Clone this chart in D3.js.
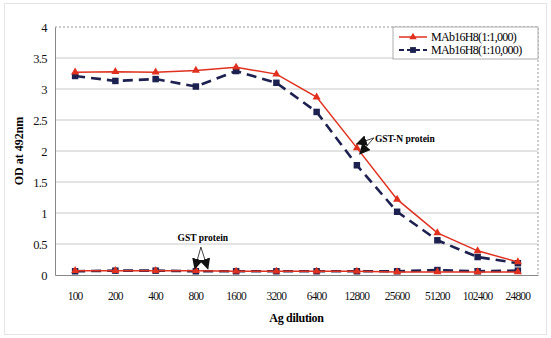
<!DOCTYPE html>
<html lang="en">
<head>
<meta charset="UTF-8">
<title>OD at 492nm</title>
<script src="https://cdn.jsdelivr.net/npm/d3@7"></script>
<style>
    body { margin: 0; background: #fff; }
    svg { display: block; font-family: "Liberation Serif", "DejaVu Serif", serif; }
</style>
</head>
<body>
<div id="graphic"></div>
<script>
    // tick labels / categories
    var dilutions = ['100', '200', '400', '800', '1600', '3200', '6400', '12800', '25600', '51200', '102400', '24800'];
    var yTicks = [0, 0.5, 1, 1.5, 2, 2.5, 3, 3.5, 4];

    // GST-N protein
    var mab1000 = [3.27, 3.28, 3.27, 3.30, 3.35, 3.24, 2.87, 2.05, 1.22, 0.68, 0.39, 0.21];
    var mab10000 = [3.21, 3.13, 3.16, 3.04, 3.29, 3.10, 2.63, 1.77, 1.02, 0.56, 0.29, 0.19];
    // GST protein
    var gst1000 = [0.07, 0.07, 0.07, 0.07, 0.06, 0.06, 0.06, 0.06, 0.05, 0.05, 0.05, 0.05];
    var gst10000 = [0.06, 0.07, 0.07, 0.06, 0.06, 0.06, 0.06, 0.06, 0.06, 0.08, 0.06, 0.07];

    var width = 551, height = 338;
    var margin = {left: 55, right: 13, top: 27, bottom: 63};
    var red = '#e0301e', navy = '#1c2150';

    var svg = d3.select('#graphic').append('svg')
        .attr('width', width)
        .attr('height', height);

    // faint scan frame
    svg.append('rect')
        .attr('x', 4.5).attr('y', 3.5)
        .attr('width', width - 9).attr('height', height - 7)
        .attr('fill', 'none').attr('stroke', '#e4e4e4');

    var x = d3.scaleBand()
        .domain(dilutions)
        .range([margin.left, width - margin.right])
        .padding(0);

    var y = d3.scaleLinear()
        .domain([0, 4])
        .range([height - margin.bottom, margin.top]);

    var cx = function(i) { return x(dilutions[i]) + x.bandwidth() / 2; };

    // grid lines
    svg.append('g')
        .selectAll('line')
        .data(yTicks.filter(d => d > 0 && d < 4))
        .join('line')
        .attr('x1', margin.left).attr('x2', width - margin.right)
        .attr('y1', d => y(d)).attr('y2', d => y(d))
        .attr('stroke', '#c8c8c8').attr('stroke-width', 1);

    // dotted top & right border
    svg.append('path')
        .attr('d', 'M' + margin.left + ',' + y(4) + 'H' + (width - margin.right) + 'V' + y(0))
        .attr('fill', 'none').attr('stroke', '#999')
        .attr('stroke-dasharray', '2,2');

    // y axis
    var yAxis = svg.append('g')
        .attr('transform', 'translate(' + margin.left + ',0)')
        .call(d3.axisLeft(y).tickValues(yTicks).tickSize(0).tickPadding(8).tickFormat(d3.format('')));
    yAxis.select('.domain').attr('stroke', '#888');
    yAxis.selectAll('text').attr('font-size', 12.5).attr('fill', '#111')
        .attr('letter-spacing', '-0.6px')
        .attr('font-family', '"Liberation Serif", serif');

    // x axis
    var xAxis = svg.append('g')
        .attr('transform', 'translate(0,' + y(0) + ')')
        .call(d3.axisBottom(x).tickSize(0).tickPadding(17));
    xAxis.select('.domain').attr('stroke', '#888');
    xAxis.selectAll('text').attr('font-size', 11.5).attr('fill', '#111')
        .attr('letter-spacing', '-0.8px')
        .attr('font-family', '"Liberation Serif", serif');

    // axis titles
    svg.append('text')
        .attr('transform', 'translate(23,' + y(2) + ') rotate(-90)')
        .attr('text-anchor', 'middle')
        .attr('font-size', 12).attr('font-weight', 'bold')
        .text('OD at 492nm');
    svg.append('text')
        .attr('x', x('3200') + x.bandwidth())
        .attr('y', 322)
        .attr('text-anchor', 'middle')
        .attr('font-size', 12).attr('font-weight', 'bold')
        .attr('letter-spacing', '-0.3px')
        .text('Ag dilution');

    var line = d3.line().x((d, i) => cx(i)).y(d => y(d));

    function drawSeries(values, color, dashed, marker) {
        var g = svg.append('g');
        g.append('path')
            .datum(values)
            .attr('d', line)
            .attr('fill', 'none')
            .attr('stroke', color)
            .attr('stroke-width', dashed ? 2.6 : 1.5)
            .attr('stroke-dasharray', dashed ? '10,6' : null);
        g.selectAll('path.mk')
            .data(values)
            .join('path')
            .attr('class', 'mk')
            .attr('d', d3.symbol().type(marker).size(marker === d3.symbolTriangle ? 28 : 42))
            .attr('transform', (d, i) => 'translate(' + cx(i) + ',' + y(d) + ')')
            .attr('fill', color);
    }

    drawSeries(gst10000, navy, true, d3.symbolSquare);
    drawSeries(gst1000, red, false, d3.symbolTriangle);
    drawSeries(mab10000, navy, true, d3.symbolSquare);
    drawSeries(mab1000, red, false, d3.symbolTriangle);

    // arrow marker
    svg.append('defs').append('marker')
        .attr('id', 'arr')
        .attr('viewBox', '0 0 10 10')
        .attr('refX', 9).attr('refY', 5)
        .attr('markerWidth', 11).attr('markerHeight', 11)
        .attr('markerUnits', 'userSpaceOnUse')
        .attr('orient', 'auto')
        .append('path')
        .attr('d', 'M0,0L10,5L0,10Z')
        .attr('fill', '#111');

    function arrow(x1, y1, x2, y2) {
        svg.append('line')
            .attr('x1', x1).attr('y1', y1).attr('x2', x2).attr('y2', y2)
            .attr('stroke', '#111').attr('stroke-width', 0.8)
            .attr('marker-end', 'url(#arr)');
    }

    // GST-N protein annotation
    var nx = cx(7), nTop = y(mab1000[7]);
    svg.append('text')
        .attr('x', nx + 18).attr('y', nTop - 6)
        .attr('font-size', 9.5).attr('font-weight', 'bold')
        .text('GST-N protein');
    arrow(nx + 17, nTop - 10, nx, nTop - 4);
    arrow(nx + 17, nTop - 10, nx + 3, nTop + 6);

    // GST protein annotation
    var gx = cx(3);
    svg.append('text')
        .attr('x', gx + 7).attr('y', y(0.55))
        .attr('text-anchor', 'middle')
        .attr('font-size', 9.5).attr('font-weight', 'bold')
        .text('GST protein');
    arrow(gx + 5, y(0.45), gx - 1, y(gst1000[3]) - 2);
    arrow(gx + 5, y(0.45), gx + 12, y(gst1000[3]) - 2);

    // legend
    var lg = svg.append('g').attr('transform', 'translate(393,27)');
    lg.append('rect')
        .attr('width', 145).attr('height', 32)
        .attr('fill', '#fff').attr('stroke', '#999').attr('stroke-width', 0.8);
    var legendItems = [
        {label: 'MAb16H8(1:1,000)', color: red, dashed: false, marker: d3.symbolTriangle},
        {label: 'MAb16H8(1:10,000)', color: navy, dashed: true, marker: d3.symbolSquare}
    ];
    legendItems.forEach(function(d, i) {
        var ly = 10 + i * 13;
        lg.append('line')
            .attr('x1', 6).attr('x2', 34).attr('y1', ly).attr('y2', ly)
            .attr('stroke', d.color)
            .attr('stroke-width', d.dashed ? 1.8 : 1.5)
            .attr('stroke-dasharray', d.dashed ? '5,3' : null);
        lg.append('path')
            .attr('d', d3.symbol().type(d.marker).size(d.dashed ? 34 : 24))
            .attr('transform', 'translate(20,' + ly + ')')
            .attr('fill', d.color);
        lg.append('text')
            .attr('x', 38).attr('y', ly + 4)
            .attr('font-size', 12)
            .attr('letter-spacing', '-0.7px')
            .text(d.label);
    });
</script>
</body>
</html>
